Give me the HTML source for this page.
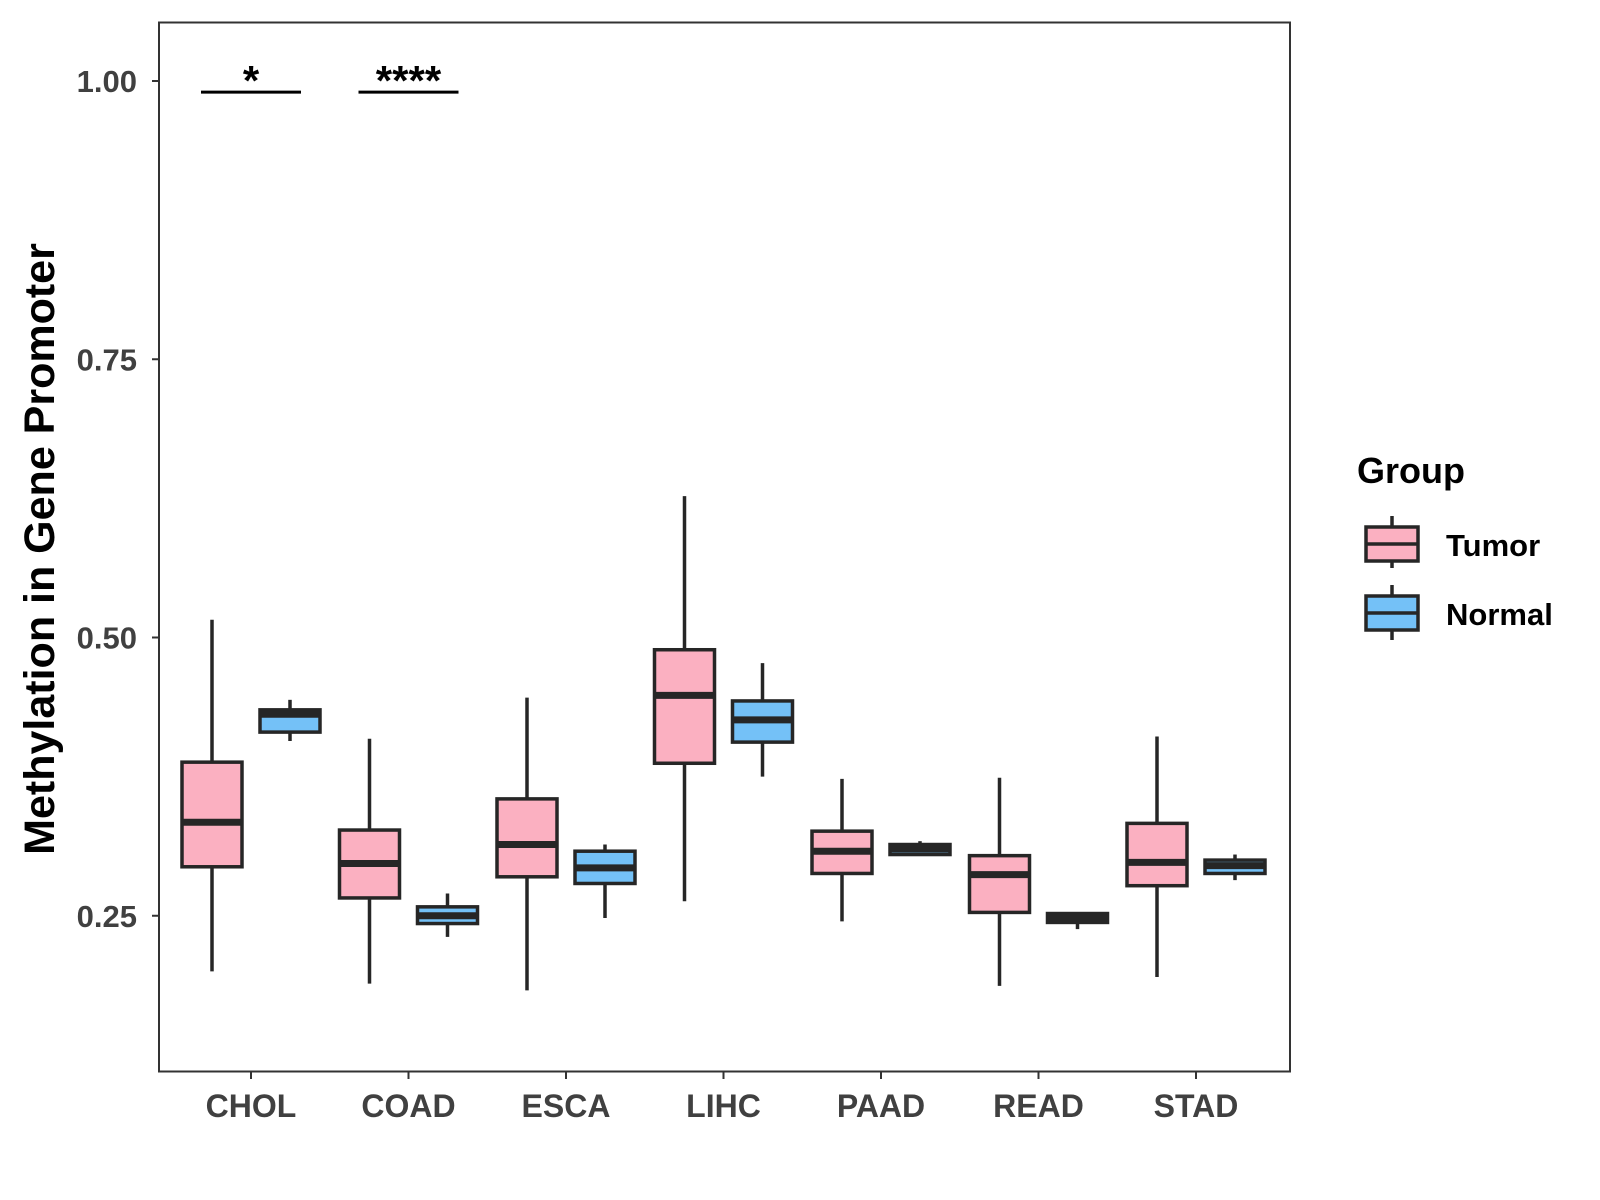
<!DOCTYPE html>
<html><head><meta charset="utf-8"><style>
body{margin:0;background:#fff}
svg{display:block;font-family:"Liberation Sans",Arial,sans-serif;font-weight:bold}
</style></head><body>
<svg id="chart" width="1600" height="1200" xmlns="http://www.w3.org/2000/svg">
<rect x="159" y="22.5" width="1131" height="1049" fill="#fff" stroke="#333" stroke-width="2"/>
<g id="marks"></g>
<text transform="translate(54,549) rotate(-90)" text-anchor="middle" font-size="43" fill="#000">Methylation in Gene Promoter</text>
<g>
<text x="1357" y="483" font-size="36" fill="#000">Group</text>
<g>
<line x1="1392" y1="516" x2="1392" y2="568" stroke="#262626" stroke-width="3.5"/>
<rect x="1366" y="527" width="52" height="34" fill="#FBB0C1" stroke="#262626" stroke-width="3.5"/>
<line x1="1366" y1="544" x2="1418" y2="544" stroke="#262626" stroke-width="3.5"/>
<text x="1446" y="556" font-size="31" fill="#000">Tumor</text></g>
<g>
<line x1="1392" y1="585" x2="1392" y2="640" stroke="#262626" stroke-width="3.5"/>
<rect x="1366" y="596" width="52" height="34" fill="#74C1F7" stroke="#262626" stroke-width="3.5"/>
<line x1="1366" y1="613" x2="1418" y2="613" stroke="#262626" stroke-width="3.5"/>
<text x="1446" y="625" font-size="31" fill="#000">Normal</text></g>
</g>
</svg>
<script>
const categories=["CHOL","COAD","ESCA","LIHC","PAAD","READ","STAD"];
const tumorLow=[0.200,0.189,0.183,0.263,0.245,0.187,0.195];
const tumorQ1=[0.294,0.266,0.285,0.387,0.288,0.253,0.277];
const tumorMed=[0.334,0.297,0.314,0.448,0.308,0.287,0.298];
const tumorQ3=[0.388,0.327,0.355,0.489,0.326,0.304,0.333];
const tumorHigh=[0.516,0.409,0.446,0.627,0.373,0.374,0.411];
const normalLow=[0.407,0.231,0.248,0.375,0.305,0.238,0.282];
const normalQ1=[0.415,0.243,0.279,0.406,0.305,0.244,0.288];
const normalMed=[0.431,0.250,0.293,0.426,0.310,0.248,0.295];
const normalQ3=[0.435,0.258,0.308,0.443,0.314,0.252,0.300];
const normalHigh=[0.444,0.270,0.314,0.477,0.317,0.252,0.305];
const yTicks=[0.25,0.50,0.75,1.00];
const yTickLabels=["0.25","0.50","0.75","1.00"];
const sigCategories=["CHOL","COAD"];
const sigLabels=["*","****"];
const sigValue=[0.99,0.99];

const NS="http://www.w3.org/2000/svg";
const g=document.getElementById("marks");
const y=v=>81+(1-v)*1113;
const x=i=>251+i*157.5;
function mk(t,a,parent){const e=document.createElementNS(NS,t);for(const k in a)e.setAttribute(k,a[k]);(parent||g).appendChild(e);return e;}
const ink="#262626";
yTicks.forEach((v,i)=>{
  const l=mk("line",{x1:152,x2:159,y1:y(v),y2:y(v),stroke:"#333","stroke-width":2});
  
  
  const t=mk("text",{x:137,y:y(v)+11,"text-anchor":"end","font-size":31,fill:"#404040"});
  t.textContent=yTickLabels[i];
  
  
});
categories.forEach((c,i)=>{
  const l=mk("line",{x1:x(i),x2:x(i),y1:1071,y2:1079,stroke:"#333","stroke-width":2});
  
  
  const t=mk("text",{x:x(i),y:1117,"text-anchor":"middle","font-size":32,fill:"#404040"});
  t.textContent=c;
  
  
  const groups=[["tumor",-39,"#FBB0C1",tumorLow,tumorQ1,tumorMed,tumorQ3,tumorHigh],["normal",39,"#74C1F7",normalLow,normalQ1,normalMed,normalQ3,normalHigh]];
  groups.forEach(([nm,off,fill,lo,q1,md,q3,hi])=>{
    const cx=x(i)+off, w=60;
    const bx=mk("g",{});
    
    
    mk("line",{x1:cx,x2:cx,y1:y(hi[i]),y2:y(lo[i]),stroke:ink,"stroke-width":3.5},bx);
    mk("rect",{x:cx-w/2,y:y(q3[i]),width:w,height:Math.max(y(q1[i])-y(q3[i]),1),fill:fill,stroke:ink,"stroke-width":3.5},bx);
    mk("line",{x1:cx-w/2,x2:cx+w/2,y1:y(md[i]),y2:y(md[i]),stroke:ink,"stroke-width":7},bx);
  });
});
sigCategories.forEach((c,k)=>{
  const i=categories.indexOf(c);
  const l=mk("line",{x1:x(i)-50,x2:x(i)+50,y1:y(sigValue[k]),y2:y(sigValue[k]),stroke:"#000","stroke-width":3});
  
  
  const t=mk("text",{x:x(i),y:y(sigValue[k])+3,"text-anchor":"middle","font-size":42,fill:"#000"});
  t.textContent=sigLabels[k];
  
  
});
</script>
</body></html>
